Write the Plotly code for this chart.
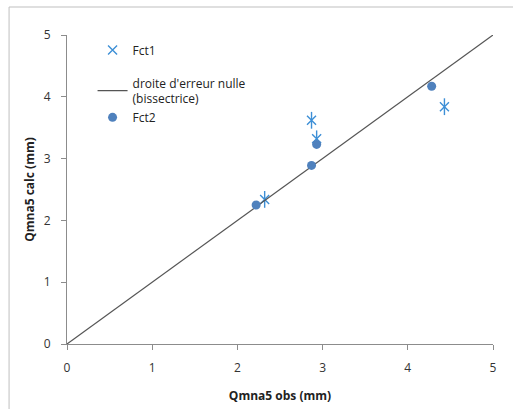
import plotly.graph_objects as go

fct1_x = [2.32, 2.87, 2.93, 4.43]
fct1_y = [2.34, 3.62, 3.32, 3.84]
fct2_x = [2.22, 2.87, 2.93, 4.28]
fct2_y = [2.25, 2.89, 3.23, 4.17]
bis_x = [0, 5]
bis_y = [0, 5]
ticks = [0, 1, 2, 3, 4, 5]

FONT = "Open Sans"
STAR = "#3d8fd6"

fig = go.Figure()
# Fct1: six-armed star = vertical bar + thin X
fig.add_trace(go.Scatter(x=fct1_x, y=fct1_y, mode="markers", name="Fct1",
                         legendgroup="a",
                         marker=dict(symbol="x-thin-open", size=9, color=STAR,
                                     line=dict(color=STAR, width=1.4))))
fig.add_trace(go.Scatter(x=fct1_x, y=fct1_y, mode="markers", name="Fct1",
                         legendgroup="a", showlegend=False,
                         marker=dict(symbol="line-ns-open", size=12, color=STAR,
                                     line=dict(color=STAR, width=1.4))))
fig.add_trace(go.Scatter(x=bis_x, y=bis_y, mode="lines",
                         name="droite d'erreur nulle<br>(bissectrice)",
                         legendgroup="b",
                         line=dict(color="#555555", width=1.2)))
fig.add_trace(go.Scatter(x=fct2_x, y=fct2_y, mode="markers", name="Fct2",
                         legendgroup="b",
                         marker=dict(symbol="circle", size=9, color="#4f81bd")))

axis_common = dict(range=[0, 5], tickvals=ticks, showgrid=False, zeroline=False,
                   showline=True, linecolor="#8c8c8c", linewidth=1,
                   ticks="outside", ticklen=5, tickcolor="#8c8c8c",
                   ticklabelstandoff=8, automargin=False,
                   tickfont=dict(family=FONT, size=12, color="#333333"))

fig.update_xaxes(**axis_common,
                 title=dict(text="<b>Qmna5 obs (mm)</b>", standoff=16,
                            font=dict(family=FONT, size=12, color="#222222")))
fig.update_yaxes(**axis_common,
                 title=dict(text="<b>Qmna5 calc (mm)</b>", standoff=6,
                            font=dict(family=FONT, size=12, color="#222222")))

fig.add_shape(type="line", xref="paper", yref="paper", x0=-0.136, x1=1.2,
              y0=1.0906, y1=1.0906, line=dict(color="#bfbfbf", width=1))
fig.add_shape(type="line", xref="paper", yref="paper", x0=-0.136, x1=-0.136,
              y0=-0.3, y1=1.0906, line=dict(color="#bfbfbf", width=1))

fig.update_layout(
    width=513, height=409,
    margin=dict(l=67, r=20, t=35, b=65),
    paper_bgcolor="white", plot_bgcolor="white",
    font=dict(family=FONT, size=12, color="#222222"),
    legend=dict(x=0.06, y=0.998, xanchor="left", yanchor="top",
                bgcolor="rgba(0,0,0,0)", tracegroupgap=14,
                itemwidth=30, font=dict(family=FONT, size=12)),
)

fig.write_html("out.html")
